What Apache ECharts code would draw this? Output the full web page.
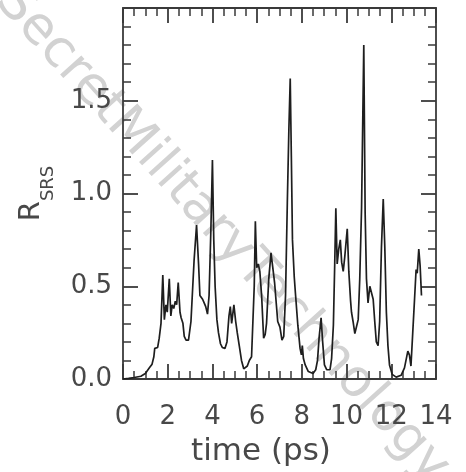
<!DOCTYPE html>
<html>
<head>
<meta charset="utf-8">
<script src="https://cdn.jsdelivr.net/npm/echarts@6/dist/echarts.min.js"></script>
<style>html,body{margin:0;padding:0;background:#fff}#c{width:466px;height:472px}</style>
</head>
<body>
<div id="c"></div>
<script>
const times = [0.0,0.25,0.5,0.8,1.0,1.18,1.3,1.38,1.42,1.55,1.62,1.70,1.78,1.85,1.92,1.98,2.07,2.14,2.2,2.27,2.34,2.4,2.47,2.55,2.6,2.68,2.74,2.82,2.93,3.04,3.18,3.29,3.38,3.44,3.5,3.56,3.63,3.7,3.78,3.85,3.93,4.0,4.06,4.12,4.2,4.27,4.36,4.44,4.56,4.65,4.74,4.8,4.86,4.96,5.04,5.11,5.2,5.3,5.4,5.47,5.56,5.65,5.75,5.82,5.87,5.92,5.98,6.05,6.12,6.2,6.29,6.36,6.42,6.52,6.62,6.7,6.78,6.86,6.92,7.02,7.11,7.19,7.27,7.35,7.42,7.48,7.53,7.58,7.66,7.72,7.82,7.92,7.98,8.02,8.07,8.15,8.29,8.5,8.62,8.7,8.77,8.86,8.93,9.01,9.11,9.26,9.33,9.41,9.47,9.52,9.58,9.65,9.72,9.78,9.85,9.92,10.03,10.1,10.18,10.22,10.29,10.37,10.44,10.52,10.59,10.67,10.77,10.83,10.89,10.96,11.04,11.11,11.19,11.26,11.33,11.41,11.48,11.56,11.64,11.71,11.78,11.85,11.92,12.04,12.22,12.44,12.59,12.74,12.81,12.88,12.96,13.04,13.11,13.16,13.23,13.29,13.35];
const rsrs = [0.0,0.003,0.008,0.015,0.03,0.06,0.08,0.12,0.165,0.17,0.22,0.30,0.56,0.32,0.40,0.36,0.54,0.34,0.40,0.38,0.42,0.40,0.52,0.36,0.33,0.30,0.23,0.21,0.21,0.31,0.64,0.83,0.62,0.45,0.44,0.43,0.41,0.39,0.35,0.45,0.80,1.18,0.75,0.50,0.32,0.25,0.19,0.17,0.165,0.2,0.34,0.39,0.30,0.40,0.31,0.25,0.18,0.10,0.055,0.05,0.07,0.10,0.12,0.13,0.50,0.85,0.60,0.62,0.58,0.45,0.22,0.24,0.30,0.54,0.68,0.60,0.52,0.40,0.31,0.28,0.21,0.23,0.45,0.95,1.35,1.62,1.20,0.75,0.55,0.45,0.29,0.165,0.13,0.18,0.11,0.076,0.04,0.03,0.05,0.10,0.22,0.33,0.20,0.076,0.05,0.05,0.11,0.29,0.62,0.92,0.62,0.70,0.75,0.63,0.58,0.66,0.81,0.58,0.42,0.36,0.31,0.245,0.25,0.32,0.54,0.92,1.80,0.90,0.54,0.41,0.50,0.51,0.43,0.31,0.20,0.18,0.31,0.71,0.97,0.71,0.36,0.18,0.076,0.025,0.01,0.02,0.06,0.15,0.13,0.07,0.25,0.43,0.59,0.57,0.70,0.61,0.45];
const xTickLabels = ['0','2','4','6','8','10','12','14'];
const yTickLabels = ['0.0','0.5','1.0','1.5'];
const xTitle = 'time (ps)';
const watermark = 'SecretMilitaryTechnology';

const FONT = 'DejaVu Sans';
const AXC = '#3a3a3a';
const TXC = '#484848';
const pts = times.map((t, i) => [t, rsrs[i]]);

function axisCommon() {
  return {
    axisLine: { show: true, onZero: false, lineStyle: { color: AXC, width: 1.8 } },
    axisTick: { show: true, inside: true, length: 15, lineStyle: { color: AXC, width: 1.8 } },
    splitLine: { show: false },
    minorSplitLine: { show: false }
  };
}

const chart = echarts.init(document.getElementById('c'), null, { renderer: 'canvas' });
chart.setOption({
  animation: false,
  backgroundColor: '#fff',
  grid: { left: 123, right: 30, top: 8, bottom: 88.5 },
  xAxis: [
    Object.assign(axisCommon(), {
      type: 'value', position: 'bottom', min: 0, max: 14, interval: 2,
      minorTick: { show: true, splitNumber: 4, length: 8, lineStyle: { color: AXC, width: 1.5 } },
      axisLabel: { show: true, margin: 25, fontFamily: FONT, fontSize: 26, fontWeight: 'normal', color: TXC,
        formatter: v => { const i = Math.round(v / 2); return Math.abs(v - i * 2) < 1e-6 ? xTickLabels[i] : ''; } },
      name: xTitle, nameLocation: 'middle', nameGap: 57,
      nameTextStyle: { fontFamily: FONT, fontSize: 31, fontWeight: 'normal', color: TXC, padding: [0, 37, 0, 0] }
    }),
    Object.assign(axisCommon(), {
      type: 'value', position: 'top', min: 0, max: 14, interval: 2,
      minorTick: { show: true, splitNumber: 4, length: 8, lineStyle: { color: AXC, width: 1.5 } },
      axisLabel: { show: false }
    })
  ],
  yAxis: [
    Object.assign(axisCommon(), {
      type: 'value', position: 'left', min: 0, max: 2.0, interval: 0.5,
      minorTick: { show: true, splitNumber: 5, length: 8, lineStyle: { color: AXC, width: 1.5 } },
      axisLabel: { show: true, margin: 11, fontFamily: FONT, fontSize: 26, fontWeight: 'normal', color: TXC,
        formatter: v => { const i = Math.round(v / 0.5); return (Math.abs(v - i * 0.5) < 1e-6 && i < yTickLabels.length) ? yTickLabels[i] : ''; } },
      name: '{r|R}{s|SRS}', nameLocation: 'middle', nameGap: 66, nameRotate: 90,
      nameTextStyle: {
        rich: {
          r: { fontFamily: FONT, fontSize: 29, fontWeight: 'normal', color: TXC, verticalAlign: 'top', lineHeight: 40 },
          s: { fontFamily: FONT, fontSize: 18, fontWeight: 'normal', color: TXC, verticalAlign: 'bottom', lineHeight: 40 }
        }
      }
    }),
    Object.assign(axisCommon(), {
      type: 'value', position: 'right', min: 0, max: 2.0, interval: 0.5,
      minorTick: { show: true, splitNumber: 5, length: 8, lineStyle: { color: AXC, width: 1.5 } },
      axisLabel: { show: false }
    })
  ],
  graphic: [{
    type: 'text', z: 0, zlevel: 0, silent: true,
    x: 222, y: 234, rotation: -48 * Math.PI / 180,
    style: { text: watermark, fontFamily: FONT, fontSize: 52, fontWeight: 'normal', fill: '#d2d2d2', align: 'center', verticalAlign: 'middle' }
  }],
  series: [{
    type: 'line', xAxisIndex: 0, yAxisIndex: 0, data: pts, showSymbol: false, symbol: 'none',
    z: 5, lineStyle: { color: '#1e1e1e', width: 1.7 }
  }]
});
</script>
</body>
</html>
